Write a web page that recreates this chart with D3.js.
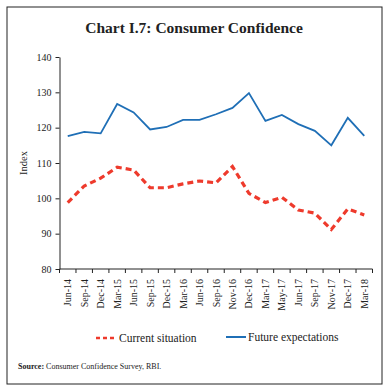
<!doctype html>
<html>
<head>
<meta charset="utf-8">
<script src="https://cdn.jsdelivr.net/npm/d3@7"></script>
<style>
  body { margin: 0; background: #fff; }
  svg { display: block; }
  text { font-family: "Liberation Serif", "DejaVu Serif", serif; fill: #222; }
  .axis path, .axis line { stroke: #222; stroke-width: 1; }
</style>
</head>
<body>
<svg id="chart" width="391" height="391"></svg>
<script>
var months = ["Jun-14","Sep-14","Dec-14","Mar-15","Jun-15","Sep-15","Dec-15","Mar-16","Jun-16","Sep-16",
              "Nov-16","Dec-16","Mar-17","May-17","Jun-17","Sep-17","Nov-17","Dec-17","Mar-18"];
var current = [98.8, 103.5, 105.7, 108.8, 108.0, 103.0, 103.0, 104.1, 104.9, 104.4,
               109.0, 101.4, 98.8, 100.3, 96.7, 95.8, 91.2, 97.0, 95.3];
var future = [117.6, 118.8, 118.4, 126.7, 124.3, 119.5, 120.2, 122.2, 122.2, 123.8,
              125.6, 129.8, 121.9, 123.6, 121.0, 119.1, 115.0, 122.8, 117.7];
var yTicks = [80, 90, 100, 110, 120, 130, 140];

var svg = d3.select("#chart");

svg.append("rect")
  .attr("x", 7).attr("y", 7).attr("width", 375).attr("height", 377)
  .attr("fill", "none").attr("stroke", "#222").attr("stroke-width", 1);

svg.append("text")
  .attr("x", 194).attr("y", 33)
  .attr("text-anchor", "middle")
  .style("font-size", "15.5px").style("font-weight", "bold")
  .text("Chart I.7: Consumer Confidence");

var plotL = 59.5, plotR = 372.5, plotT = 57, plotB = 269;

var x = d3.scaleBand().domain(months).range([plotL, plotR]).padding(0);
var y = d3.scaleLinear().domain([80, 140]).range([plotB, plotT]);

var yAxis = svg.append("g").attr("class", "axis")
  .attr("transform", "translate(" + plotL + ",0)")
  .call(d3.axisLeft(y).tickValues(yTicks).tickSize(4).tickSizeOuter(0));
yAxis.selectAll("text").style("font-size", "10px").attr("dx", "-1");

var xAxis = svg.append("g").attr("class", "axis")
  .attr("transform", "translate(0," + plotB + ")");
xAxis.append("line").attr("x1", plotL).attr("x2", plotR).attr("stroke", "#222");
xAxis.selectAll(".tk")
  .data(months.concat(["end"]))
  .enter().append("line")
  .attr("x1", function(d, i) { return plotL + i * x.bandwidth(); })
  .attr("x2", function(d, i) { return plotL + i * x.bandwidth(); })
  .attr("y1", 0).attr("y2", 4).attr("stroke", "#222");
xAxis.selectAll(".lbl")
  .data(months)
  .enter().append("text")
  .attr("transform", function(d) { return "translate(" + (x(d) + x.bandwidth() / 2 + 3.5) + ",10) rotate(-90)"; })
  .attr("text-anchor", "end")
  .style("font-size", "10px")
  .text(function(d) { return d; });

svg.append("text")
  .attr("transform", "translate(27," + ((plotT + plotB) / 2) + ") rotate(-90)")
  .attr("text-anchor", "middle")
  .style("font-size", "10.5px")
  .text("Index");

var line = d3.line()
  .x(function(d, i) { return x(months[i]) + x.bandwidth() / 2; })
  .y(function(d) { return y(d); });

svg.append("path").datum(future)
  .attr("d", line).attr("fill", "none")
  .attr("stroke", "#1f6fb6").attr("stroke-width", 1.8);

svg.append("path").datum(current)
  .attr("d", line).attr("fill", "none")
  .attr("stroke", "#ee3a2c").attr("stroke-width", 3.2)
  .attr("stroke-dasharray", "6,4");

var legend = svg.append("g").attr("transform", "translate(0,338)");
legend.append("line").attr("x1", 96).attr("x2", 116).attr("y1", 0).attr("y2", 0)
  .attr("stroke", "#ee3a2c").attr("stroke-width", 2.5).attr("stroke-dasharray", "4,3");
legend.append("text").attr("x", 119).attr("y", 4).style("font-size", "11.5px").text("Current situation");
legend.append("line").attr("x1", 226).attr("x2", 246).attr("y1", -1).attr("y2", -1)
  .attr("stroke", "#1f6fb6").attr("stroke-width", 2);
legend.append("text").attr("x", 248).attr("y", 3).style("font-size", "11.5px").text("Future expectations");

var src = svg.append("text").attr("x", 18).attr("y", 369).style("font-size", "8px");
src.append("tspan").style("font-weight", "bold").text("Source:");
src.append("tspan").text(" Consumer Confidence Survey, RBI.");
</script>
</body>
</html>
